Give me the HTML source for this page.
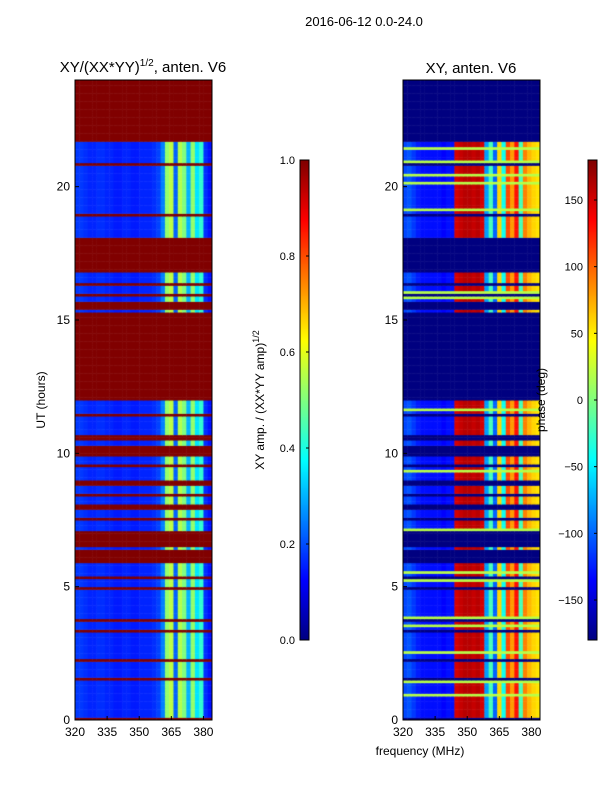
<!DOCTYPE html>
<html><head><meta charset="utf-8"><style>
body{margin:0;background:#fff;width:600px;height:800px;overflow:hidden;font-family:"Liberation Sans",sans-serif;}
#wrap{position:relative;width:600px;height:800px;}
canvas{position:absolute;}
svg{position:absolute;left:0;top:0;}
</style></head><body>
<div id="wrap">
<canvas id="c1" width="137" height="640" style="left:75px;top:80px"></canvas>
<canvas id="c2" width="137" height="640" style="left:403px;top:80px"></canvas>
<canvas id="cb1" width="9" height="480" style="left:300px;top:160px"></canvas>
<canvas id="cb2" width="9" height="480" style="left:588px;top:160px"></canvas>
<svg id="s" width="600" height="800" font-family="Liberation Sans, sans-serif">
<text x="364" y="26" font-size="13" text-anchor="middle">2016-06-12 0.0-24.0</text>
<text x="143" y="72" font-size="15" text-anchor="middle">XY/(XX*YY)<tspan font-size="10" dy="-6">1/2</tspan><tspan dy="6">, anten. V6</tspan></text>
<text x="471" y="73" font-size="15" text-anchor="middle">XY, anten. V6</text>
<text x="420" y="755" font-size="12" text-anchor="middle">frequency (MHz)</text>
<text transform="translate(45,400) rotate(-90)" font-size="12" text-anchor="middle">UT (hours)</text>
<text transform="translate(264,400) rotate(-90)" font-size="12" text-anchor="middle">XY amp. / (XX*YY amp)<tspan font-size="9" dy="-5">1/2</tspan></text>
<text transform="translate(545,400) rotate(-90)" font-size="12" text-anchor="middle">phase (deg)</text>
<g id="g"></g>
</svg>
</div>
<script>
const freqs=[321,323,325,327,329,331,333,335,337,339,341,343,345,347,349,351,353,355,357,359,361,363,365,367,369,371,373,375,377,379,381,383];
const ampProfile=[0.18,0.18,0.17,0.16,0.16,0.17,0.17,0.16,0.16,0.15,0.15,0.16,0.16,0.15,0.15,0.16,0.16,0.16,0.17,0.19,0.25,0.52,0.56,0.22,0.55,0.5,0.3,0.52,0.35,0.42,0.17,0.14];
const phaseProfile=[-110,-105,-115,-125,-130,-130,-130,-130,-130,-135,-130,-130,150,155,160,160,155,160,150,-80,-20,-100,60,-40,110,80,130,-20,90,70,60,55];
const flagIntervals=[[0,0.1],[1.5,1.6],[2.2,2.3],[3.3,3.4],[3.7,3.8],[4.9,5.0],[5.3,5.4],[5.9,6.4],[6.5,7.1],[7.5,7.6],[7.9,8.1],[8.4,8.5],[8.8,9.0],[9.5,9.6],[9.9,10.3],[10.5,10.7],[11.4,11.5],[12.0,15.3],[15.4,15.7],[15.9,16.0],[16.3,16.4],[16.75,18.1],[18.9,19.0],[20.8,20.9],[21.7,24]];
const phaseLineHours=[0.9,1.5,2.6,3.6,3.9,5.2,5.5,6.0,6.5,7.1,8.0,8.9,9.3,10.5,11.4,11.6,14.0,15.1,15.8,16.0,19.2,20.2,20.5,21.0,21.5];
const xTicks=[320,335,350,365,380];
const yTicks=[0,5,10,15,20];
const ampTicks=[0.0,0.2,0.4,0.6,0.8,1.0];
const phaseTicks=[-150,-100,-50,0,50,100,150];
const fMin=320,fMax=384,tMin=0,tMax=24,W=137,H=640,dt=0.1,df=2;
const xs=f=>(f-fMin)/(fMax-fMin)*W;
const ys=t=>H-(t-tMin)/(tMax-tMin)*H;
function jet(v){v=Math.max(0,Math.min(1,v));const c=x=>Math.round(255*Math.max(0,Math.min(1,1.5-Math.abs(4*v-x))));return `rgb(${c(3)},${c(2)},${c(1)})`;}
const flagged=t=>flagIntervals.some(([a,b])=>t>=a&&t<b);
const isLine=t=>phaseLineHours.some(h=>Math.abs(h-t)<0.05);
const c1=document.getElementById('c1').getContext('2d'),c2=document.getElementById('c2').getContext('2d');
for(let t=0;t<tMax;t+=dt){const fl=flagged(t+dt/2),ln=isLine(t+dt/2);
 const y0=ys(t+dt),h=ys(t)-ys(t+dt);
 freqs.forEach((f,i)=>{const x0=xs(f-df/2),w=xs(f+df/2)-x0;
  c1.fillStyle=fl?jet(1):jet(ampProfile[i]);c1.fillRect(x0,y0,w+0.5,h+0.5);
  let p=fl?-180:(ln?20:phaseProfile[i]);
  c2.fillStyle=jet((p+180)/360);c2.fillRect(x0,y0,w+0.5,h+0.5);});}
const b1=document.getElementById('cb1').getContext('2d'),b2=document.getElementById('cb2').getContext('2d');
for(let y=0;y<480;y++){b1.fillStyle=jet(1-y/480);b1.fillRect(0,y,9,1);b2.fillStyle=jet(1-y/480);b2.fillRect(0,y,9,1);}
const g=document.getElementById('g'),NS='http://www.w3.org/2000/svg';
function mk(tag,at,txt){const e=document.createElementNS(NS,tag);for(const k in at)e.setAttribute(k,at[k]);if(txt!==undefined)e.textContent=txt;g.appendChild(e);return e;}
[[75,'left'],[403,'right']].forEach(([ox,n])=>{
 const r=mk('rect',{x:ox,y:80,width:W,height:H,fill:'none',stroke:'#000','stroke-width':1});
 
 
 xTicks.forEach(v=>{const x=ox+xs(v);
  const l=mk('line',{x1:x,x2:x,y1:720,y2:716,stroke:'#000'});
  
  
  const t=mk('text',{x:x,y:736,'font-size':12,'text-anchor':'middle'},v);
  
  });
 yTicks.forEach(v=>{const y=80+ys(v);
  const l=mk('line',{x1:ox,x2:ox+4,y1:y,y2:y,stroke:'#000'});
  
  
  const t=mk('text',{x:ox-5,y:y+4,'font-size':12,'text-anchor':'end'},v);
  
  });
});
function cbar(ox,ticks,lo,hi,fmt,n){
 const r=mk('rect',{x:ox,y:160,width:9,height:480,fill:'none',stroke:'#000'});
 
 
 ticks.forEach(v=>{const y=640-(v-lo)/(hi-lo)*480;
  const l=mk('line',{x1:ox+9,x2:ox+6,y1:y,y2:y,stroke:'#000'});
  
  
  const t=mk('text',{x:ox-5,y:y+4,'font-size':11,'text-anchor':'end'},fmt?v.toFixed(1):String(v).replace('-','\u2212'));
  
  });}
cbar(300,ampTicks,0,1,true,'amplitude');
cbar(588,phaseTicks,-180,180,false,'phase');
</script>
</body></html>
